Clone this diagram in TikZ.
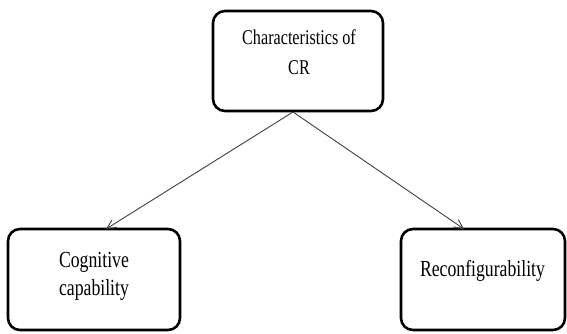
\documentclass[tikz,border=0pt]{standalone}
\usepackage{fontspec}
\newfontfamily\boxfont[FakeStretch=0.77]{Liberation Serif}
\usetikzlibrary{arrows.meta}
\tikzset{
  box/.style={draw=black, line width=2.6pt, rounded corners=12pt, fill=white},
  lbl/.style={align=center, inner sep=0pt, text=black},
  link/.style={draw=black!75, line width=0.9pt, -{Straight Barb[length=9pt,width=9pt]}}
}
\begin{document}
\begin{tikzpicture}[x=1pt, y=-1pt]
  \useasboundingbox (0,0) rectangle (567,333);
  % boxes
  \draw[box] (213,11) rectangle (383,111);
  \node[inner sep=0pt, minimum width=170pt, minimum height=100pt] (top) at (298,61) {};
  \draw[box] (8,229) rectangle (180,330);
  \node[inner sep=0pt, minimum width=172pt, minimum height=101pt] (left) at (94,279.5) {};
  \draw[box] (401,229) rectangle (565,330);
  \node[inner sep=0pt, minimum width=164pt, minimum height=101pt] (right) at (483,279.5) {};
  % labels (base anchor sits on the last line's baseline)
  \node[lbl, font=\boxfont\fontsize{21}{30}\selectfont, anchor=base] (ttop) at (299,74) {Characteristics of\\CR};
  \node[lbl, font=\boxfont\fontsize{23}{28}\selectfont, anchor=base] (tleft) at (94,295) {Cognitive\\capability};
  \node[lbl, font=\boxfont\fontsize{23}{28}\selectfont, anchor=base] (tright) at (482.5,276) {Reconfigurability};
  % connectors
  \coordinate (apex) at (293,112);
  \coordinate (lend) at (106,229);
  \coordinate (rend) at (464,229);
  \draw[link] (apex) -- (lend);
  \draw[link] (apex) -- (rend);
\end{tikzpicture}
\end{document}
